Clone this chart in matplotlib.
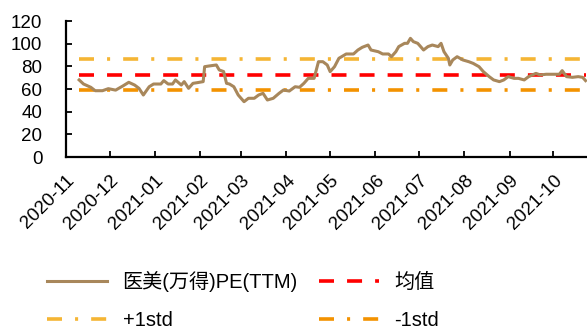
import matplotlib
matplotlib.use('Agg')
import matplotlib.pyplot as plt
import matplotlib.dates as mdates
import pandas as pd

# PE(TTM) of the medical aesthetics index, sampled by month
dates = [
    '2020-11-10', '2020-11-13', '2020-11-18', '2020-11-21', '2020-11-26', '2020-11-30',
    '2020-12-05', '2020-12-10', '2020-12-14', '2020-12-18', '2020-12-21', '2020-12-24', '2020-12-28', '2020-12-31',
    '2021-01-05', '2021-01-07', '2021-01-10', '2021-01-13', '2021-01-15', '2021-01-19', '2021-01-21', '2021-01-24', '2021-01-27', '2021-01-30',
    '2021-02-03', '2021-02-04', '2021-02-07', '2021-02-12', '2021-02-14', '2021-02-17', '2021-02-19', '2021-02-21', '2021-02-24', '2021-02-27',
    '2021-03-03', '2021-03-06', '2021-03-10', '2021-03-13', '2021-03-16', '2021-03-19', '2021-03-23', '2021-03-27', '2021-03-30',
    '2021-04-03', '2021-04-07', '2021-04-10', '2021-04-13', '2021-04-16', '2021-04-20', '2021-04-23', '2021-04-26', '2021-04-29',
    '2021-05-01', '2021-05-04', '2021-05-07', '2021-05-12', '2021-05-17', '2021-05-20', '2021-05-23', '2021-05-27', '2021-05-29',
    '2021-06-03', '2021-06-06', '2021-06-10', '2021-06-12', '2021-06-15', '2021-06-17', '2021-06-21', '2021-06-23', '2021-06-25', '2021-06-27', '2021-06-30',
    '2021-07-02', '2021-07-04', '2021-07-07', '2021-07-10', '2021-07-14', '2021-07-16', '2021-07-18', '2021-07-21', '2021-07-22', '2021-07-24', '2021-07-27', '2021-07-31',
    '2021-08-04', '2021-08-07', '2021-08-11', '2021-08-14', '2021-08-18', '2021-08-21', '2021-08-25', '2021-08-28', '2021-08-31',
    '2021-09-04', '2021-09-07', '2021-09-11', '2021-09-14', '2021-09-19', '2021-09-22', '2021-09-26',
    '2021-10-01', '2021-10-05', '2021-10-07', '2021-10-10', '2021-10-14', '2021-10-18', '2021-10-21', '2021-10-23',
]
pe = [
    68, 64.4, 61.5, 58.5, 58.5, 60.3,
    59, 62.7, 65.9, 63.5, 60.6, 54.7, 62, 64.4,
    64.4, 67.4, 64.4, 64.4, 68, 63.5, 66.5, 60.6, 65, 65.6,
    66.5, 79.7, 80.3, 81.2, 76.8, 75.4, 65, 64.4, 62, 54.7,
    48.8, 51.8, 51.8, 54.7, 56.2, 50.3, 51.8, 56.2, 59.1,
    58.2, 62, 61.5, 65, 69.4, 69.4, 84.1, 84.1, 81.2,
    75.3, 79.7, 87.1, 90.9, 90.9, 94.4, 96.8, 98.8, 94.4,
    92.9, 90.9, 90.9, 88.5, 92.9, 97.4, 100.3, 100.3, 104.7, 101.8, 100.3,
    97.4, 94.4, 97.4, 98.8, 97.4, 100.3, 92.9, 87.1, 81.2, 85.6, 88.5, 85.6,
    84.1, 82.6, 79.7, 75.3, 70.9, 68, 66.5, 68, 70.9,
    69.4, 69.4, 68, 70.9, 73.8, 72.4, 73,
    73, 73, 76.2, 70.9, 70.3, 70.9, 70.3, 67.4,
]
pe_mean = 72.6
pe_plus_std = 86.5
pe_minus_std = 58.7

plt.rcParams['font.family'] = ['Liberation Sans', 'Noto Sans CJK SC']
plt.rcParams['lines.scale_dashes'] = False

fig = plt.figure(figsize=(5.87, 3.29), dpi=100)
ax = fig.add_axes([66 / 587, 1 - 157 / 329, 1 - 66 / 587, 136 / 329])

x = pd.to_datetime(dates)
n = len(x)
l_pe, = ax.plot(x, pe, color='#A8875B', lw=2.2, zorder=4, label='医美(万得)PE(TTM)')
l_mean, = ax.plot(x, [pe_mean] * n, color='#FF0000', lw=2.6, dashes=(10.8, 9.4), label='均值')
l_up, = ax.plot(x, [pe_plus_std] * n, color='#F5B534', lw=2.6,
                dashes=(10.8, 9.4, 2.2, 9.4), label='+1std')
l_dn, = ax.plot(x, [pe_minus_std] * n, color='#F39200', lw=2.6,
                dashes=(10.8, 9.4, 2.2, 9.4), label='-1std')

ax.set_xlim(pd.Timestamp('2020-11-01'), pd.Timestamp('2021-10-24'))
ax.set_ylim(0, 120)
ax.set_yticks(range(0, 121, 20))
ax.xaxis.set_major_locator(mdates.MonthLocator())
ax.xaxis.set_major_formatter(mdates.DateFormatter('%Y-%m'))

for s in ['top', 'right']:
    ax.spines[s].set_visible(False)
for s in ['left', 'bottom']:
    ax.spines[s].set_linewidth(1.6)
    ax.spines[s].set_color('black')

ax.tick_params(axis='both', direction='in', length=4.5, width=1.3, labelsize=13.5, colors='black')
ax.tick_params(axis='y', pad=17)
ax.tick_params(axis='x', pad=11)
for lab in ax.get_xticklabels():
    lab.set_rotation(45)
    lab.set_ha('right')
    lab.set_rotation_mode('anchor')

# legend: two rows, series and mean on top, the std bands below
fig.legend([l_pe, l_up, l_mean, l_dn], [h.get_label() for h in [l_pe, l_up, l_mean, l_dn]],
           ncol=2, loc='upper left', bbox_to_anchor=(47 / 587, 1 - 271 / 329),
           frameon=False, fontsize=14.5, borderpad=0, borderaxespad=0,
           handlelength=3.0, handletextpad=0.75, columnspacing=1.05, labelspacing=0.96)

fig.savefig('out.png', dpi=100)
